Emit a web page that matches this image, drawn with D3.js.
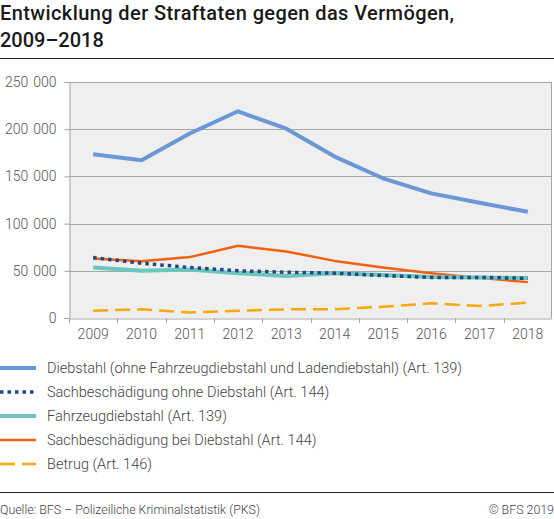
<!DOCTYPE html>
<html>
<head>
<meta charset="utf-8">
<script src="https://cdn.jsdelivr.net/npm/d3@7"></script>
<style>
  body { margin: 0; background: #fff; }
  text { font-family: Roboto, "Noto Sans", sans-serif; }
</style>
</head>
<body>
<div id="canvas"></div>
<script>
const width = 554;
const height = 519;

const years = ["2009", "2010", "2011", "2012", "2013", "2014", "2015", "2016", "2017", "2018"];
const yTicks = [0, 50000, 100000, 150000, 200000, 250000];

const diebstahl = [173500, 167000, 195500, 219000, 200500, 171000, 148000, 132000, 122000, 112500];
const sachOhne = [64000, 58000, 53500, 50000, 48500, 47500, 45000, 43000, 43000, 42000];
const fahrzeug = [53500, 50000, 51500, 47500, 44500, 47500, 45500, 43500, 43000, 42500];
const sachBei = [63000, 60000, 64500, 76500, 70500, 60500, 53500, 47500, 42500, 38000];
const betrug = [7700, 9200, 5800, 7700, 9200, 9200, 12000, 15500, 12700, 16200];

const series = [
    { name: "Diebstahl (ohne Fahrzeugdiebstahl und Ladendiebstahl) (Art. 139)", values: diebstahl, color: "#6a97d5", w: 4, dash: null },
    { name: "Sachbeschädigung ohne Diebstahl (Art. 144)", values: sachOhne, color: "#1d4a86", w: 3.5, dash: "3.5,4" },
    { name: "Fahrzeugdiebstahl (Art. 139)", values: fahrzeug, color: "#6cc6c0", w: 4, dash: null },
    { name: "Sachbeschädigung bei Diebstahl (Art. 144)", values: sachBei, color: "#f2610f", w: 2.5, dash: null },
    { name: "Betrug (Art. 146)", values: betrug, color: "#f9a80a", w: 2.5, dash: "15,7" }
];

const svg = d3.select("#canvas")
    .append("svg")
    .attr("width", width)
    .attr("height", height);

// title
svg.append("text")
    .attr("x", 0).attr("y", 20)
    .attr("font-size", "20px").attr("font-weight", 500).attr("fill", "#1a1a1a")
    .attr("letter-spacing", "0.4px")
    .text("Entwicklung der Straftaten gegen das Vermögen,");
svg.append("text")
    .attr("x", 0).attr("y", 47)
    .attr("font-size", "20px").attr("font-weight", 500).attr("fill", "#1a1a1a")
    .text("2009–2018");
svg.append("line")
    .attr("x1", 0).attr("x2", width).attr("y1", 58.5).attr("y2", 58.5)
    .attr("stroke", "#222").attr("stroke-width", 1);

const pLeft = 69, pRight = 552, pTop = 82, pBottom = 318;

const x = d3.scaleBand().domain(years).range([pLeft, pRight]);
const y = d3.scaleLinear().domain([0, 250000]).range([pBottom, pTop]);

svg.append("rect")
    .attr("x", pLeft).attr("y", pTop)
    .attr("width", pRight - pLeft).attr("height", pBottom - pTop)
    .attr("fill", "#efefef");

// gridlines
svg.append("g")
    .selectAll("line")
    .data(yTicks.slice(1))
    .join("line")
    .attr("x1", pLeft).attr("x2", pRight)
    .attr("y1", d => Math.round(y(d)) + 0.5).attr("y2", d => Math.round(y(d)) + 0.5)
    .attr("stroke", "#a6a6a6").attr("stroke-width", 1);

svg.append("line")
    .attr("x1", pRight - 0.5).attr("x2", pRight - 0.5).attr("y1", pTop).attr("y2", pBottom)
    .attr("stroke", "#a6a6a6");

const fmt = d => d3.format(",")(d).replace(/,/g, " ");

const yAxis = svg.append("g")
    .attr("transform", `translate(${pLeft + 0.5},0)`)
    .call(d3.axisLeft(y).tickValues(yTicks).tickSize(5).tickPadding(8).tickFormat(fmt));
yAxis.select(".domain").attr("stroke", "#a6a6a6");
yAxis.selectAll(".tick line").attr("stroke", "#a6a6a6");
yAxis.selectAll(".tick text").attr("font-size", "14px").attr("fill", "#555")
    .attr("font-family", "Roboto").attr("font-weight", 300)
    .attr("word-spacing", "1.5px");

const xAxis = svg.append("g")
    .attr("transform", `translate(0,${pBottom + 0.5})`)
    .call(d3.axisBottom(x).tickSize(0).tickPadding(11));
xAxis.select(".domain").attr("stroke", "#a6a6a6");
xAxis.selectAll(".tick text").attr("font-size", "14px").attr("fill", "#555")
    .attr("font-family", "Roboto").attr("font-weight", 300);
svg.append("g")
    .selectAll("line")
    .data(years)
    .join("line")
    .attr("x1", d => Math.round(x(d)) + 0.5).attr("x2", d => Math.round(x(d)) + 0.5)
    .attr("y1", pBottom).attr("y2", pBottom + 5)
    .attr("stroke", "#a6a6a6");

const line = d3.line()
    .x((d, i) => x(years[i]) + x.bandwidth() / 2)
    .y(d => y(d));

// draw order: bottom first
const order = [4, 3, 2, 1, 0];
order.forEach(k => {
    const s = series[k];
    svg.append("path")
        .datum(s.values)
        .attr("d", line)
        .attr("fill", "none")
        .attr("stroke", s.color)
        .attr("stroke-width", s.w)
        .attr("stroke-dasharray", s.dash)
        .attr("stroke-linejoin", "round");
});

// legend
const lg = svg.append("g");
series.forEach((s, i) => {
    const ly = 368 + i * 24;
    lg.append("line")
        .attr("x1", 0).attr("x2", 36).attr("y1", ly).attr("y2", ly)
        .attr("stroke", s.color).attr("stroke-width", s.w)
        .attr("stroke-dasharray", s.dash);
    lg.append("text")
        .attr("x", 47).attr("y", ly + 5)
        .attr("font-size", "14.5px").attr("fill", "#444").attr("font-weight", 300)
        .text(s.name);
});

// footer
svg.append("line")
    .attr("x1", 0).attr("x2", width).attr("y1", 492.5).attr("y2", 492.5)
    .attr("stroke", "#222");
svg.append("text")
    .attr("x", 0).attr("y", 514)
    .attr("font-size", "12.4px").attr("fill", "#444").attr("font-weight", 300)
    .text("Quelle: BFS – Polizeiliche Kriminalstatistik (PKS)");
svg.append("text")
    .attr("x", width).attr("y", 514).attr("text-anchor", "end")
    .attr("font-size", "12.4px").attr("fill", "#444").attr("font-weight", 300)
    .text("© BFS 2019");
</script>
</body>
</html>
